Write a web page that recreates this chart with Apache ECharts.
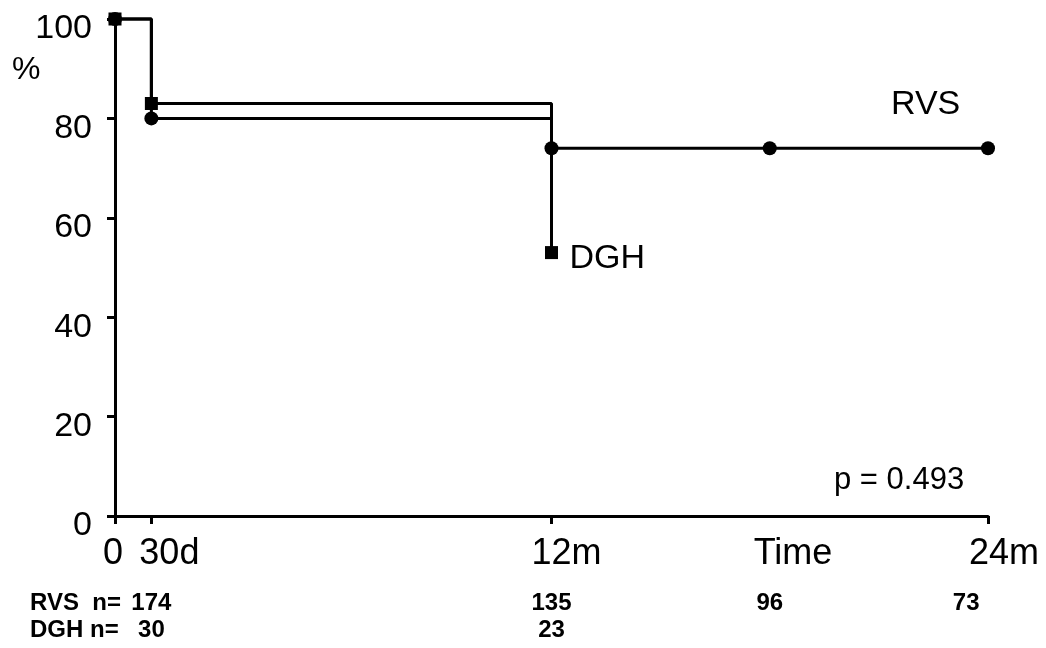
<!DOCTYPE html>
<html>
<head>
<meta charset="utf-8">
<style>html,body{margin:0;padding:0;background:#fff}#c{width:1046px;height:648px}</style>
<script src="https://cdn.jsdelivr.net/npm/echarts@6/dist/echarts.min.js"></script>
</head>
<body>
<div id="c"></div>
<script>
// Time in months
const rvsTimes = [0, 1, 12, 18, 24];
const rvsSurvival = [100, 80, 74, 74, 74];
const dghTimes = [0, 1, 12];
const dghSurvival = [100, 83, 53];
const tickValues = [0, 1, 12, 24];
const tickLabels = ['0', '30d', '12m', '24m'];
const timeLabelPos = 18.64;
const rvsCountTimes = [1, 12, 18, 23.4];
const rvsCounts = ['174', '135', '96', '73'];
const dghCountTimes = [1, 12];
const dghCounts = ['30', '23'];

const FONT = '"Liberation Sans", Arial, Helvetica, sans-serif';
const chart = echarts.init(document.getElementById('c'), null, {renderer: 'canvas'});

const labelMap = {};
tickValues.forEach((v, i) => labelMap[v] = tickLabels[i]);
labelMap[timeLabelPos] = 'Time';
const richKey = {'0': 'z', '30d': 'd', '12m': 'm', '24m': 'y', 'Time': 't'};
const xRich = {
  z: {fontFamily: FONT, fontSize: 36, color: '#000', padding: [0, 4, 0, 0]},
  d: {fontFamily: FONT, fontSize: 36, color: '#000', padding: [0, 0, 0, 36]},
  m: {fontFamily: FONT, fontSize: 36, color: '#000', padding: [0, 0, 0, 30]},
  y: {fontFamily: FONT, fontSize: 36, color: '#000', padding: [0, 0, 0, 32]},
  t: {fontFamily: FONT, fontSize: 36, color: '#000'}
};

const rvsCountMap = {}; rvsCountTimes.forEach((v, i) => rvsCountMap[v] = rvsCounts[i]);
const dghCountMap = {}; dghCountTimes.forEach((v, i) => dghCountMap[v] = dghCounts[i]);

const lineCol = '#000';
const LW = 3;
const countAxis = (offset, times, map) => ({
  type: 'value', min: 0, max: 24, position: 'bottom', offset: offset,
  axisLine: {show: false}, axisTick: {show: false}, splitLine: {show: false},
  axisLabel: {
    customValues: times, color: '#000', fontFamily: FONT, fontSize: 24, fontWeight: 'bold',
    formatter: v => map[v] || ''
  }
});

chart.setOption({
  animation: false,
  backgroundColor: '#fff',
  grid: {left: 115, right: 58, top: 19, bottom: 132, containLabel: false},
  xAxis: [{
    type: 'value', min: 0, max: 24,
    axisLine: {lineStyle: {color: lineCol, width: LW}},
    axisTick: {customValues: tickValues, length: 8, lineStyle: {color: lineCol, width: LW}},
    splitLine: {show: false},
    axisLabel: {
      customValues: tickValues.concat([timeLabelPos]),
      margin: 20, color: '#000', fontFamily: FONT, fontSize: 36,
      formatter: v => {
        const t = labelMap[v] || '';
        return '{' + richKey[t] + '|' + t + '}';
      },
      rich: xRich
    }
  },
  countAxis(67, rvsCountTimes, rvsCountMap),
  countAxis(94, dghCountTimes, dghCountMap)
  ],
  yAxis: {
    type: 'value', min: 0, max: 100, interval: 20,
    axisLine: {show: true, lineStyle: {color: lineCol, width: LW}},
    axisTick: {show: true, length: 8, lineStyle: {color: lineCol, width: LW}},
    splitLine: {show: false},
    axisLabel: {
      margin: 23, color: '#000', fontFamily: FONT, fontSize: 34,
      formatter: v => '{v|' + v + '}',
      rich: {v: {fontFamily: FONT, fontSize: 34, color: '#000', padding: [20, 0, 0, 0]}}
    }
  },
  series: [{
    name: 'RVS', type: 'line', step: 'end',
    data: rvsTimes.map((t, i) => [t, rvsSurvival[i]]),
    symbol: 'circle', symbolSize: 14, clip: false,
    lineStyle: {color: lineCol, width: LW}, itemStyle: {color: lineCol}
  }, {
    name: 'DGH', type: 'line', step: 'end',
    data: dghTimes.map((t, i) => [t, dghSurvival[i]]),
    symbol: 'rect', symbolSize: 13, clip: false,
    lineStyle: {color: lineCol, width: LW}, itemStyle: {color: lineCol},
    endLabel: {show: true, formatter: 'DGH', color: '#000', fontFamily: FONT, fontSize: 34, distance: 18, offset: [0, 6]}
  }],
  graphic: [
    {type: 'text', left: 891, top: 88, style: {text: 'RVS', fontFamily: FONT, fontSize: 34, fill: '#000'}},
    {type: 'text', left: 834, top: 465, style: {text: 'p = 0.493', fontFamily: FONT, fontSize: 31, fill: '#000'}},
    {type: 'text', left: 12, top: 54, style: {text: '%', fontFamily: FONT, fontSize: 32, fill: '#000'}},
    {type: 'text', left: 30, top: 591, style: {text: 'RVS  n=', fontFamily: FONT, fontSize: 24, fontWeight: 'bold', fill: '#000'}},
    {type: 'text', left: 30, top: 618, style: {text: 'DGH n=', fontFamily: FONT, fontSize: 24, fontWeight: 'bold', fill: '#000'}}
  ]
});
</script>
</body>
</html>
